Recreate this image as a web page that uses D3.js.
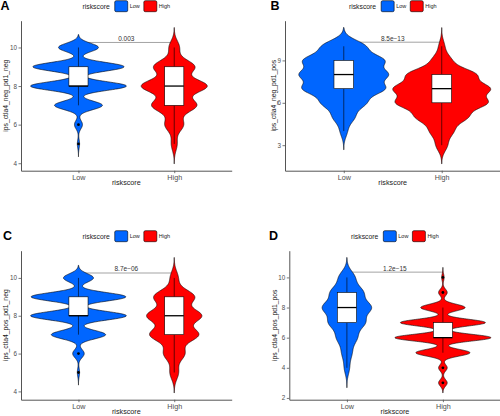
<!DOCTYPE html>
<html><head><meta charset="utf-8">
<script src="https://cdn.jsdelivr.net/npm/d3@7"></script>
<style>body{margin:0;background:#fff} svg{display:block;font-family:"Liberation Sans",Arial,sans-serif}</style>
</head><body><svg id="c" width="500" height="416"></svg>
<script>
// ---------- data ----------
const categories = ["Low", "High"];
const scores = [2, 3, 4, 5, 6, 7, 8, 9, 10];
const panelLabels = ["A", "B", "C", "D"];
const yTitles = ["ips_ctla4_neg_pd1_neg", "ips_ctla4_neg_pd1_pos", "ips_ctla4_pos_pd1_neg", "ips_ctla4_pos_pd1_pos"];
const pLabels = ["0.003", "8.5e\u221213", "8.7e\u221206", "1.2e\u221215"];
const bracketY = [10.26, 10.29, 10.26, 10.35];
const yTicks = [[4, 6, 8, 10], [3, 6, 9], [4, 6, 8, 10], [2, 4, 6, 8, 10]];
// counts of samples per score (scores 2..10)
const lowCounts = [
  [0, 0, 0, 2, 7, 42, 84, 80, 35],
  [0, 0, 5, 15, 30, 56, 59, 55, 30],
  [0, 0, 0, 2, 10, 47, 83, 82, 26],
  [0, 0, 8, 15, 30, 53, 72, 48, 24]
];
const highCounts = [
  [0, 0, 0, 8, 25, 60, 88, 55, 14],
  [0, 8, 16, 35, 62, 65, 47, 13, 4],
  [0, 0, 0, 12, 29, 67, 75, 56, 11],
  [0, 7, 7, 44, 78, 69, 36, 7, 2]
];
const legendTitle = "riskscore";
const xTitle = "riskscore";

// ---------- styles / layout ----------
const colors = ["#0066FF", "#FF0000"];
const layout = [
  {x0: 21, x1: 231.7, y0: 20.7, y1: 170.7, lx: 0.5, ly: 10.3},
  {x0: 285, x1: 500.5, y0: 20.7, y1: 170.7, lx: 270.5, ly: 10.3},
  {x0: 21, x1: 231.7, y0: 250.7, y1: 399.7, lx: 3, ly: 240.3},
  {x0: 289.3, x1: 500.5, y0: 250.7, y1: 399.7, lx: 269, ly: 240.3}
];

const svg = d3.select("#c");

function groupStats(counts) {
  const vals = [];
  scores.forEach((s, i) => { for (let k = 0; k < counts[i]; k++) vals.push(s); });
  vals.sort(d3.ascending);
  const n = vals.length;
  const q1 = d3.quantileSorted(vals, 0.25), med = d3.quantileSorted(vals, 0.5), q3 = d3.quantileSorted(vals, 0.75);
  const iqr = q3 - q1, sd = d3.deviation(vals);
  const bw = 0.9 * Math.min(sd, iqr / 1.34) * Math.pow(n, -0.2);
  const lo = vals[0] - 3 * bw, hi = vals[n - 1] + 3 * bw;
  const pts = d3.range(512).map(i => {
    const y = lo + (hi - lo) * i / 511;
    let s = 0;
    scores.forEach((sc, j) => { if (counts[j]) s += counts[j] * Math.exp(-0.5 * ((y - sc) / bw) ** 2); });
    return {y, d: s / (n * bw * Math.sqrt(2 * Math.PI))};
  });
  const wLo = d3.min(vals.filter(v => v >= q1 - 1.5 * iqr));
  const wHi = d3.max(vals.filter(v => v <= q3 + 1.5 * iqr));
  const outliers = Array.from(new Set(vals.filter(v => v < wLo || v > wHi)));
  return {q1, med, q3, wLo, wHi, outliers, pts, lo, hi, maxD: d3.max(pts, p => p.d)};
}

panelLabels.forEach((lab, pi) => {
  const L = layout[pi];
  const groups = [groupStats(lowCounts[pi]), groupStats(highCounts[pi])];
  const lo = d3.min(groups, g => g.lo), hi = d3.max(groups, g => g.hi);
  const span = hi - lo;
  const y = d3.scaleLinear().domain([lo - 0.05 * span, hi + 0.05 * span]).range([L.y1, L.y0]);
  const x = d3.scaleLinear().domain([0.4, 2.6]).range([L.x0, L.x1]);
  const maxD = d3.max(groups, g => g.maxD);
  const g = svg.append("g");

  // panel label
  g.append("text").attr("x", L.lx).attr("y", L.ly).attr("font-size", 12.5).attr("font-weight", "bold").text(lab);

  // bracket (beneath violins)
  const by = y(bracketY[pi]);
  g.append("line").attr("x1", x(1)).attr("x2", x(2)).attr("y1", by).attr("y2", by)
    .attr("stroke", "#999").attr("stroke-width", 0.9);

  // violins
  groups.forEach((gs, gi) => {
    const cx = gi + 1;
    const area = d3.area()
      .y(p => y(p.y))
      .x0(p => x(cx - 0.5 * p.d / maxD))
      .x1(p => x(cx + 0.5 * p.d / maxD));
    g.append("path").attr("d", area(gs.pts)).attr("fill", colors[gi])
      .attr("stroke", "#000").attr("stroke-width", 0.6);
  });

  // boxplots
  groups.forEach((gs, gi) => {
    const cx = gi + 1;
    g.append("line").attr("x1", x(cx)).attr("x2", x(cx)).attr("y1", y(gs.wHi)).attr("y2", y(gs.q3))
      .attr("stroke", "#000").attr("stroke-width", 0.6);
    g.append("line").attr("x1", x(cx)).attr("x2", x(cx)).attr("y1", y(gs.q1)).attr("y2", y(gs.wLo))
      .attr("stroke", "#000").attr("stroke-width", 0.6);
    g.append("rect").attr("x", x(cx - 0.1)).attr("width", x(cx + 0.1) - x(cx - 0.1))
      .attr("y", y(gs.q3)).attr("height", y(gs.q1) - y(gs.q3))
      .attr("fill", "#fff").attr("stroke", "#000").attr("stroke-width", 0.6);
    g.append("line").attr("x1", x(cx - 0.1)).attr("x2", x(cx + 0.1)).attr("y1", y(gs.med)).attr("y2", y(gs.med))
      .attr("stroke", "#000").attr("stroke-width", 1.3);
    gs.outliers.forEach(o => {
      g.append("circle").attr("cx", x(cx)).attr("cy", y(o)).attr("r", 1.4).attr("fill", "#000");
    });
  });

  // p-value label
  g.append("text").attr("x", (x(1) + x(2)) / 2).attr("y", by - 1.6).attr("text-anchor", "middle")
    .attr("font-size", 6.5).attr("fill", "#333").text(pLabels[pi]);

  // axes
  const ya = g.append("g").attr("transform", `translate(${L.x0},0)`)
    .call(d3.axisLeft(y).tickValues(yTicks[pi]).tickSize(2.5).tickSizeOuter(0).tickPadding(1.5));
  const xa = g.append("g").attr("transform", `translate(0,${L.y1})`)
    .call(d3.axisBottom(x).tickValues([1, 2]).tickFormat((d, i) => categories[i]).tickSize(2.5).tickSizeOuter(0).tickPadding(1.5));
  [ya, xa].forEach(a => {
    a.select(".domain").attr("stroke", "#555").attr("stroke-width", 1);
    a.selectAll(".tick line").attr("stroke", "#555").attr("stroke-width", 0.8);
    a.selectAll(".tick text").attr("fill", "#4D4D4D").attr("font-family", "Liberation Sans, Arial, sans-serif");
  });
  ya.selectAll(".tick text").attr("font-size", 6.3);
  xa.selectAll(".tick text").attr("font-size", 7.2);
  let maxW = 0;
  ya.selectAll(".tick text").each(function () { maxW = Math.max(maxW, this.getComputedTextLength()); });

  // axis titles
  g.append("text").attr("x", (L.x0 + L.x1) / 2).attr("y", L.y1 + 14.6).attr("text-anchor", "middle")
    .attr("font-size", 7.2).attr("fill", "#222").text(xTitle);
  const tx = L.x0 - 5.5 - maxW, ty = (L.y0 + L.y1) / 2;
  g.append("text").attr("transform", `translate(${tx},${ty}) rotate(-90)`).attr("text-anchor", "middle")
    .attr("font-size", 6.8).attr("fill", "#222").text(yTitles[pi]);

  // legend
  const lg = g.append("g");
  const ly = L.y0 - 14.5;
  const t = lg.append("text").attr("x", 0).attr("y", ly + 2.4).attr("font-size", 6.8).attr("fill", "#222").text(legendTitle);
  let cur = t.node().getComputedTextLength() + 5;
  categories.forEach((c, i) => {
    lg.append("rect").attr("x", cur).attr("y", ly - 5.5).attr("width", 13).attr("height", 11)
      .attr("rx", 1.5).attr("fill", colors[i]).attr("stroke", "#000").attr("stroke-width", 0.6);
    cur += 15;
    const lt = lg.append("text").attr("x", cur).attr("y", ly + 2).attr("font-size", 5.5).attr("fill", "#222").text(c);
    cur += lt.node().getComputedTextLength() + (i === 0 ? 4 : 0);
  });
  lg.attr("transform", `translate(${(L.x0 + L.x1) / 2 - cur / 2},0)`);
});
</script></body></html>
